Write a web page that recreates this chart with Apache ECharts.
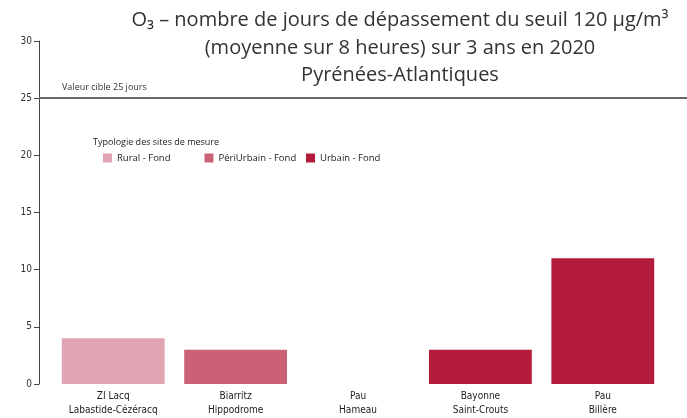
<!DOCTYPE html>
<html>
<head>
<meta charset="utf-8">
<script src="https://cdn.jsdelivr.net/npm/echarts@6/dist/echarts.min.js"></script>
<style>
  html, body { margin: 0; padding: 0; background: #fff; }
  #chart { width: 687px; height: 418px; }
</style>
</head>
<body>
<div id="chart"></div>
<script>
// Monitoring stations (two-line labels)
const stations = [
  'ZI Lacq\nLabastide-Cézéracq',
  'Biarritz\nHippodrome',
  'Pau\nHameau',
  'Bayonne\nSaint-Crouts',
  'Pau\nBillère'
];
// Days above 120 µg/m³ (8-hour mean, 3-year average), by site type
const ruralFond = [4, null, null, null, null];
const periUrbainFond = [null, 3, null, null, null];
const urbainFond = [null, null, 0, 3, 11];
const seriesNames = ['Rural - Fond', 'PériUrbain - Fond', 'Urbain - Fond'];
const seriesColors = ['#e0a5b2', '#cb6174', '#b31b3a'];
const targetDays = 25;
const yTicks = [0, 5, 10, 15, 20, 25, 30];

const smallFont = '"Liberation Sans Narrow", "DejaVu Sans Condensed", "Liberation Sans", sans-serif';
const textFont = '"Open Sans", "Noto Sans", sans-serif';

const chart = echarts.init(document.getElementById('chart'));

const barSeries = [ruralFond, periUrbainFond, urbainFond].map((data, i) => ({
  name: seriesNames[i],
  type: 'bar',
  stack: 'sites',
  xAxisIndex: 0,
  yAxisIndex: 0,
  barCategoryGap: '16%',
  itemStyle: { color: seriesColors[i] },
  data: data
}));

// One legend block per site type, laid out on a fixed pitch
const legendPitch = 101.5;
const legends = seriesNames.map((name, i) => ({
  left: 98 + i * legendPitch,
  top: 148,
  itemWidth: 9,
  itemHeight: 9,
  icon: 'rect',
  textStyle: { fontFamily: textFont, fontSize: 9.5, color: '#222' },
  data: [name]
}));

chart.setOption({
  animation: false,
  backgroundColor: '#fff',
  title: [{
    text: 'O₃ – nombre de jours de dépassement du seuil 120 µg/m³\n(moyenne sur 8 heures) sur 3 ans en 2020\nPyrénées-Atlantiques',
    left: 395,
    top: 2,
    textAlign: 'center',
    textStyle: {
      fontFamily: textFont,
      fontSize: 20,
      fontWeight: 'normal',
      color: '#333',
      lineHeight: 27.5
    }
  }, {
    text: 'Typologie des sites de mesure',
    left: 88,
    top: 133,
    textStyle: {
      fontFamily: textFont,
      fontSize: 9,
      fontWeight: 'normal',
      color: '#222'
    }
  }],
  legend: legends,
  grid: [
    { left: 52, right: 23, top: 41, bottom: 34 },
    { left: 39, right: 0, top: 41, bottom: 34 }
  ],
  xAxis: [{
    type: 'category',
    gridIndex: 0,
    data: stations,
    axisLine: { show: false },
    axisTick: { show: false },
    axisLabel: {
      fontFamily: smallFont,
      fontSize: 10,
      color: '#222',
      lineHeight: 14,
      margin: 5,
      interval: 0
    }
  }, {
    type: 'value',
    gridIndex: 1,
    min: 0,
    max: 1,
    show: false
  }],
  yAxis: [{
    type: 'value',
    gridIndex: 0,
    min: yTicks[0],
    max: yTicks[yTicks.length - 1],
    interval: 5,
    offset: 13,
    axisLine: { show: true, lineStyle: { color: '#444', width: 1 } },
    axisTick: { show: true, length: 5, lineStyle: { color: '#444' } },
    axisLabel: { fontFamily: smallFont, fontSize: 10, color: '#333', margin: 7 },
    splitLine: { show: false }
  }, {
    type: 'value',
    gridIndex: 1,
    min: yTicks[0],
    max: yTicks[yTicks.length - 1],
    show: false
  }],
  series: barSeries.concat([{
    type: 'line',
    xAxisIndex: 1,
    yAxisIndex: 1,
    data: [],
    silent: true,
    markLine: {
      symbol: 'none',
      silent: true,
      lineStyle: { color: '#666', width: 2, type: 'solid' },
      label: {
        show: true,
        position: 'insideStartTop',
        formatter: 'Valeur cible ' + targetDays + ' jours',
        fontFamily: textFont,
        fontSize: 9,
        color: '#333',
        distance: [23, 6]
      },
      data: [{ yAxis: targetDays }]
    }
  }])
});
</script>
</body>
</html>
